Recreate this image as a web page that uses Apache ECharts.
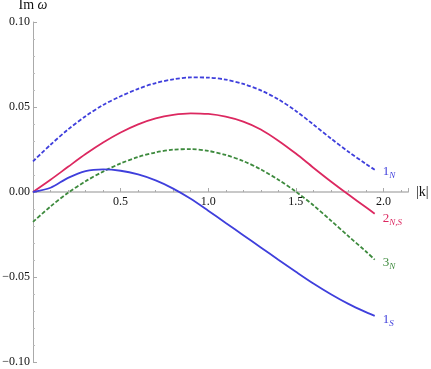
<!DOCTYPE html>
<html>
<head>
<meta charset="utf-8">
<script src="https://cdn.jsdelivr.net/npm/echarts@6/dist/echarts.min.js"></script>
<style>
  html, body { margin: 0; padding: 0; background: #fff; }
  #chart { width: 431px; height: 369px; }
</style>
</head>
<body>
<div id="chart"></div>
<script>
// |k| sample points
var ks = [0, 0.1, 0.2, 0.3, 0.4, 0.5, 0.6, 0.7, 0.8, 0.9, 1.0,
          1.1, 1.2, 1.3, 1.4, 1.5, 1.6, 1.7, 1.8, 1.9, 1.95];

// Im omega for each branch
var mode1N = [0.0180, 0.0278, 0.0368, 0.0446, 0.0512, 0.0563, 0.0607, 0.0641, 0.0663, 0.0674, 0.0673,
              0.0661, 0.0636, 0.0598, 0.0545, 0.0477, 0.0397, 0.0315, 0.0237, 0.0165, 0.0131];
var mode2NS = [0, 0.0072, 0.0148, 0.0223, 0.0291, 0.0350, 0.0398, 0.0433, 0.0454, 0.0463, 0.0459,
               0.0443, 0.0414, 0.0368, 0.0302, 0.0226, 0.0143, 0.0062, -0.0015, -0.0090, -0.0128];
var mode3N = [-0.0176, -0.0085, -0.0005, 0.0063, 0.0120, 0.0168, 0.0206, 0.0233, 0.0249, 0.0252, 0.0242,
              0.0218, 0.0182, 0.0133, 0.0072, 0.0002, -0.0078, -0.0168, -0.0260, -0.0350, -0.0398];
var mode1S = [0, 0.0025, 0.0083, 0.0123, 0.0133, 0.0125, 0.0103, 0.0068, 0.0020, -0.0040, -0.0110,
              -0.0182, -0.0254, -0.0326, -0.0398, -0.0469, -0.0538, -0.0601, -0.0658, -0.0707, -0.0729];

var xTicks = [0.5, 1.0, 1.5, 2.0];

var serif = "'Liberation Serif', 'DejaVu Serif', serif";

function pairs(vals) {
    return ks.map(function (k, i) { return [k, vals[i]]; });
}

function endLab(main, sub, color, offY) {
    return {
        show: true,
        distance: 8,
        offset: [0, offY],
        formatter: '{m|' + main + '}{s|' + sub + '}',
        rich: {
            m: { fontFamily: serif, fontSize: 13, color: color },
            s: { fontFamily: serif, fontSize: 9, fontStyle: 'italic', color: color, padding: [7, 0, 0, 0] }
        }
    };
}

var chart = echarts.init(document.getElementById('chart'));

var gridTop = 22, gridBottom = 7;
var zeroOffset = -(369 - gridTop - gridBottom) / 2;

var option = {
    animation: false,
    grid: { left: 33, right: 23, top: gridTop, bottom: gridBottom, outerBoundsMode: 'none' },
    xAxis: {
        type: 'value',
        min: 0,
        max: 2.14,
        interval: 0.5,
        offset: zeroOffset,
        name: '|k|',
        nameLocation: 'end',
        nameGap: 8,
        nameTextStyle: { fontFamily: serif, fontSize: 14, color: '#111' },
        axisLine: { onZero: false, lineStyle: { color: '#c8c8c8', width: 2 } },
        axisTick: { show: true, inside: true, length: 4, lineStyle: { color: '#aaa' } },
        minorTick: { show: true, splitNumber: 5, length: 2, lineStyle: { color: '#aaa' } },
        splitLine: { show: false },
        axisLabel: {
            fontFamily: serif, fontSize: 12, color: '#111', margin: 4,
            showMaxLabel: false,
            formatter: function (v) {
                for (var i = 0; i < xTicks.length; i++) {
                    if (Math.abs(v - xTicks[i]) < 1e-6) return v.toFixed(1);
                }
                return '';
            }
        }
    },
    yAxis: {
        type: 'value',
        min: -0.1,
        max: 0.1,
        interval: 0.05,
        name: 'Im {w|ω}',
        nameLocation: 'end',
        nameGap: 10,
        nameTextStyle: {
            fontFamily: serif, fontSize: 14, color: '#111',
            rich: { w: { fontFamily: serif, fontSize: 14, fontStyle: 'italic', color: '#111' } }
        },
        axisLine: { show: true, lineStyle: { color: '#aaa', width: 1 } },
        axisTick: { show: true, inside: true, length: 4, lineStyle: { color: '#aaa' } },
        minorTick: { show: true, splitNumber: 5, length: 2, lineStyle: { color: '#bbb' } },
        splitLine: { show: false },
        axisLabel: {
            fontFamily: serif, fontSize: 12, color: '#111', margin: 3,
            formatter: function (v) { return v.toFixed(2).replace('-', '\u2212'); }
        }
    },
    series: [
        {
            name: '1N', type: 'line', data: pairs(mode1N), smooth: 0.3, symbol: 'none',
            lineStyle: { color: '#3f3fdc', width: 1.8, type: [4, 2] },
            endLabel: endLab('1', 'N', '#3f3fdc', 2)
        },
        {
            name: '2NS', type: 'line', data: pairs(mode2NS), smooth: 0.3, symbol: 'none',
            lineStyle: { color: '#dc2860', width: 1.8 },
            endLabel: endLab('2', 'N,S', '#dc2860', 5)
        },
        {
            name: '3N', type: 'line', data: pairs(mode3N), smooth: 0.3, symbol: 'none',
            lineStyle: { color: '#3d8a3d', width: 1.8, type: [4, 2] },
            endLabel: endLab('3', 'N', '#3d8a3d', 3)
        },
        {
            name: '1S', type: 'line', data: pairs(mode1S), smooth: 0.3, symbol: 'none',
            lineStyle: { color: '#3f3fdc', width: 1.8 },
            endLabel: endLab('1', 'S', '#3f3fdc', 4)
        }
    ]
};

chart.setOption(option);
window.addEventListener('resize', function () {
    chart.resize();
});
</script>
</body>
</html>
